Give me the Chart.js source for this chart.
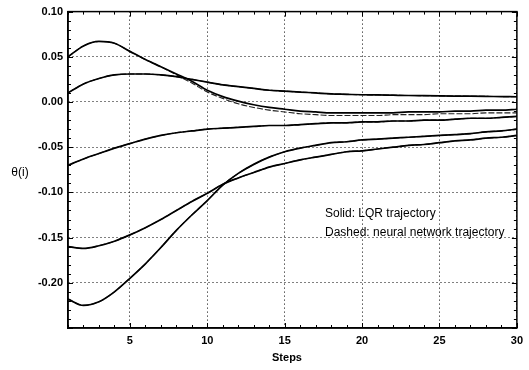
<!DOCTYPE html>
<html>
<head>
<meta charset="utf-8">
<script src="https://cdn.jsdelivr.net/npm/chart.js@4/dist/chart.umd.min.js"></script>
<style>
  html, body { margin: 0; padding: 0; background: #fff; }
  #wrap { width: 529px; height: 370px; }
</style>
</head>
<body>
<div id="wrap"><canvas id="theta"></canvas></div>
<script>
// ---- data ----
const steps = [1, 2, 3, 4, 5, 6, 7, 8, 9, 10, 11, 12, 13, 14, 15, 16, 17, 18, 19, 20, 21, 22, 23, 24, 25, 26, 27, 28, 29, 30];
const xTicks = [5, 10, 15, 20, 25, 30];
const yTicks = [-0.20, -0.15, -0.10, -0.05, 0.00, 0.05, 0.10];

// solid: LQR
const lqrA = [0.050, 0.062, 0.067, 0.065, 0.056, 0.047, 0.039, 0.031, 0.023, 0.013, 0.006, 0.001, -0.003, -0.006, -0.008, -0.010, -0.011, -0.012, -0.012, -0.012, -0.012, -0.012, -0.011, -0.011, -0.011, -0.010, -0.010, -0.009, -0.009, -0.008];
const lqrB = [0.010, 0.020, 0.026, 0.030, 0.031, 0.031, 0.030, 0.028, 0.025, 0.022, 0.019, 0.017, 0.015, 0.013, 0.012, 0.011, 0.010, 0.009, 0.0085, 0.008, 0.0078, 0.0075, 0.0072, 0.007, 0.0068, 0.0066, 0.0064, 0.0062, 0.006, 0.0058];
const lqrC = [-0.070, -0.063, -0.057, -0.051, -0.046, -0.041, -0.037, -0.034, -0.032, -0.030, -0.029, -0.028, -0.027, -0.026, -0.026, -0.025, -0.024, -0.023, -0.023, -0.022, -0.022, -0.021, -0.021, -0.020, -0.020, -0.019, -0.018, -0.018, -0.017, -0.016];
const lqrD = [-0.160, -0.162, -0.159, -0.154, -0.147, -0.139, -0.130, -0.120, -0.110, -0.101, -0.091, -0.084, -0.078, -0.072, -0.068, -0.064, -0.061, -0.058, -0.055, -0.054, -0.052, -0.050, -0.048, -0.047, -0.045, -0.043, -0.042, -0.040, -0.039, -0.037];
const lqrE = [-0.218, -0.225, -0.221, -0.210, -0.195, -0.179, -0.161, -0.142, -0.125, -0.109, -0.092, -0.079, -0.069, -0.061, -0.055, -0.051, -0.048, -0.045, -0.044, -0.042, -0.041, -0.040, -0.039, -0.038, -0.037, -0.036, -0.035, -0.033, -0.032, -0.030];

// dashed: neural network
const nnA = [0.050, 0.062, 0.067, 0.065, 0.056, 0.047, 0.039, 0.030, 0.021, 0.011, 0.004, -0.002, -0.006, -0.009, -0.011, -0.013, -0.014, -0.015, -0.015, -0.015, -0.015, -0.014, -0.014, -0.014, -0.013, -0.013, -0.013, -0.012, -0.012, -0.012];
const nnB = [0.010, 0.020, 0.026, 0.030, 0.031, 0.031, 0.030, 0.028, 0.025, 0.022, 0.019, 0.017, 0.015, 0.013, 0.012, 0.011, 0.010, 0.009, 0.0085, 0.008, 0.0078, 0.0075, 0.0072, 0.007, 0.0068, 0.0066, 0.0064, 0.0062, 0.006, 0.0058];
const nnC = [-0.070, -0.063, -0.057, -0.051, -0.046, -0.041, -0.037, -0.034, -0.032, -0.030, -0.029, -0.028, -0.027, -0.026, -0.026, -0.025, -0.024, -0.023, -0.023, -0.022, -0.022, -0.021, -0.021, -0.020, -0.020, -0.019, -0.018, -0.018, -0.017, -0.016];
const nnD = [-0.160, -0.162, -0.159, -0.154, -0.147, -0.139, -0.130, -0.120, -0.110, -0.101, -0.091, -0.084, -0.078, -0.072, -0.068, -0.064, -0.061, -0.058, -0.055, -0.054, -0.052, -0.050, -0.048, -0.047, -0.045, -0.043, -0.042, -0.040, -0.039, -0.037];
const nnE = [-0.218, -0.225, -0.221, -0.210, -0.195, -0.179, -0.161, -0.142, -0.125, -0.109, -0.092, -0.079, -0.069, -0.061, -0.055, -0.051, -0.048, -0.045, -0.044, -0.042, -0.041, -0.040, -0.039, -0.038, -0.037, -0.036, -0.035, -0.033, -0.032, -0.030];

const FONT = '"Liberation Sans", Arial, sans-serif';

function pts(arr) {
  return arr.map((y, i) => ({ x: steps[i], y }));
}
function solid(arr) {
  return { data: pts(arr), borderColor: '#000', borderWidth: 1.7, pointRadius: 0, cubicInterpolationMode: 'monotone', fill: false };
}
function dashed(arr) {
  return { data: pts(arr), borderColor: '#222', borderWidth: 1.1, borderDash: [6, 2], pointRadius: 0, cubicInterpolationMode: 'monotone', fill: false };
}

// frame, inward minor ticks and free text
const decor = {
  id: 'decor',
  afterDraw(chart) {
    const { ctx, chartArea: a, scales: { x, y } } = chart;
    ctx.save();
    ctx.strokeStyle = '#000';
    ctx.lineWidth = 1.5;
    ctx.strokeRect(a.left, a.top, a.right - a.left, a.bottom - a.top);

    ctx.lineWidth = 1;
    ctx.beginPath();
    for (let s = 1; s <= 30; s++) {
      const px = Math.round(x.getPixelForValue(s)) + 0.5;
      const len = s % 5 === 0 ? 5 : 3;
      ctx.moveTo(px, a.bottom); ctx.lineTo(px, a.bottom - len);
      ctx.moveTo(px, a.top); ctx.lineTo(px, a.top + len);
    }
    for (let k = -25; k <= 10; k++) {
      const py = Math.round(y.getPixelForValue(k / 100)) + 0.5;
      const len = k % 5 === 0 ? 5 : 3;
      ctx.moveTo(a.left, py); ctx.lineTo(a.left + len, py);
      ctx.moveTo(a.right, py); ctx.lineTo(a.right - len, py);
    }
    ctx.stroke();

    ctx.fillStyle = '#000';
    ctx.textBaseline = 'middle';
    ctx.textAlign = 'center';
    ctx.font = '12px ' + FONT;
    ctx.fillText('θ(i)', 20, 173);
    ctx.font = 'bold 11px ' + FONT;
    ctx.fillText('Steps', 287, 358);

    ctx.textAlign = 'left';
    ctx.font = '12px ' + FONT;
    ctx.fillText('Solid: LQR trajectory', 325, 214);
    ctx.fillText('Dashed: neural network trajectory', 325, 233);
    ctx.restore();
  }
};

new Chart(document.getElementById('theta'), {
  type: 'line',
  data: {
    datasets: [
      solid(lqrA), solid(lqrB), solid(lqrC), solid(lqrD), solid(lqrE),
      dashed(nnA), dashed(nnB), dashed(nnC), dashed(nnD), dashed(nnE)
    ]
  },
  options: {
    responsive: true,
    maintainAspectRatio: false,
    animation: false,
    layout: { padding: { left: 0, top: 10, right: 9, bottom: 0 } },
    plugins: { legend: { display: false }, tooltip: { enabled: false } },
    scales: {
      x: {
        type: 'linear', min: 1, max: 30,
        afterBuildTicks: (s) => { s.ticks = xTicks.map(v => ({ value: v })); },
        afterFit: (s) => { s.height = 42; },
        grid: { color: '#000', lineWidth: 1, drawTicks: false, tickLength: 0 },
        border: { display: true, color: '#000', width: 1.5, dash: [1, 3] },
        ticks: { color: '#000', padding: 6, maxRotation: 0, autoSkip: false, font: { family: FONT, size: 11, weight: 'bold' } }
      },
      y: {
        type: 'linear', min: -0.25, max: 0.10,
        afterBuildTicks: (s) => { s.ticks = yTicks.map(v => ({ value: v })); },
        afterFit: (s) => { s.width = 68; },
        grid: { color: '#000', lineWidth: 1, drawTicks: false, tickLength: 0 },
        border: { display: true, color: '#000', width: 1.5, dash: [1, 3] },
        ticks: {
          color: '#000', padding: 5, autoSkip: false,
          font: { family: FONT, size: 11, weight: 'bold' },
          callback: (v) => Number(v).toFixed(2)
        }
      }
    }
  },
  plugins: [decor]
});
</script>
</body>
</html>
